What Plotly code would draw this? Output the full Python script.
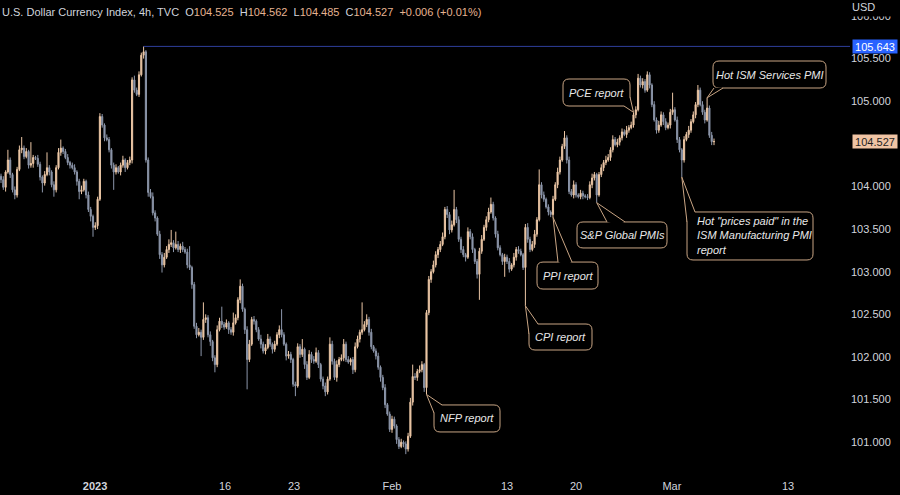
import plotly.graph_objects as go

# ---------------- data ----------------
first_open = 104.12
close = [
    104.08, 103.99, 104.17, 104.31, 104.14, 103.96, 103.90, 104.20, 104.43, 104.45,
    104.35, 104.41, 104.25, 104.27, 104.34, 104.33, 104.26, 104.11, 104.04, 104.14,
    104.22, 104.17, 104.02, 103.96, 104.22, 104.40, 104.45, 104.41, 104.34, 104.28,
    104.25, 104.22, 104.17, 104.06, 103.94, 103.96, 104.06, 103.90, 103.73, 103.65,
    103.52, 103.54, 103.85, 104.82, 104.72, 104.57, 104.55, 104.43, 104.25, 104.17,
    104.22, 104.17, 104.25, 104.31, 104.22, 104.28, 104.31, 105.25, 105.13, 105.08,
    105.31, 105.54, 105.58, 104.31, 103.93, 103.88, 103.69, 103.63, 103.44, 103.20,
    103.08, 103.17, 103.26, 103.32, 103.34, 103.28, 103.32, 103.26, 103.30, 103.26,
    103.23, 103.08, 103.05, 102.85, 102.36, 102.26, 102.29, 102.23, 102.44, 102.46,
    102.26, 102.18, 101.99, 101.91, 102.32, 102.42, 102.38, 102.35, 102.40, 102.32,
    102.29, 102.40, 102.46, 102.67, 102.83, 102.56, 102.32, 101.97, 102.15, 102.44,
    102.42, 102.32, 102.21, 102.15, 102.07, 102.11, 102.21, 102.15, 102.09, 102.15,
    102.26, 102.32, 102.26, 102.15, 102.01, 102.03, 101.97, 101.68, 101.66, 102.12,
    102.03, 102.09, 101.91, 101.76, 102.03, 101.97, 101.95, 102.05, 101.91, 101.74,
    101.66, 101.59, 101.74, 102.15, 101.95, 101.76, 101.91, 101.97, 101.99, 102.15,
    101.97, 101.94, 101.97, 101.85, 102.12, 102.21, 102.29, 102.32, 102.38, 102.44,
    102.29, 102.12, 102.07, 102.01, 101.88, 101.76, 101.64, 101.44, 101.33, 101.15,
    101.27, 101.19, 101.03, 100.95, 101.00, 100.98, 100.92, 101.07, 101.47, 101.77,
    101.76, 101.83, 101.85, 101.91, 101.64, 102.52, 102.91, 103.00, 103.08, 103.20,
    103.26, 103.32, 103.41, 103.73, 103.67, 103.49, 103.55, 103.73, 103.61, 103.38,
    103.26, 103.20, 103.17, 103.47, 103.41, 103.26, 103.12, 102.97, 103.24, 103.38,
    103.52, 103.61, 103.70, 103.79, 103.63, 103.44, 103.28, 103.20, 103.12, 103.17,
    103.12, 103.03, 103.08, 103.17, 103.26, 103.24, 103.20, 103.05, 103.52, 103.38,
    103.26, 103.32, 103.44, 103.61, 104.02, 103.90, 103.85, 103.76, 103.70, 103.67,
    103.85, 104.02, 104.17, 104.31, 104.47, 104.57, 104.31, 103.94, 103.90, 104.02,
    103.90, 103.88, 103.92, 103.89, 103.88, 103.87, 104.02, 104.10, 104.14, 103.90,
    104.14, 104.22, 104.28, 104.31, 104.34, 104.43, 104.55, 104.49, 104.52, 104.57,
    104.64, 104.61, 104.66, 104.69, 104.72, 104.84, 104.90, 105.27, 105.19, 105.23,
    105.13, 105.31, 105.19, 104.96, 104.78, 104.66, 104.72, 104.84, 104.76, 104.69,
    104.72, 104.87, 104.90, 104.78, 104.55, 104.43, 104.31, 104.55, 104.61, 104.66,
    104.76, 104.84, 104.96, 105.13, 104.96, 104.87, 104.78, 104.92, 104.60, 104.525, 104.527,
]
# wick lengths above / below the body, in hundredths of an index point
upper_wick = [
    3, 4, 2, 12, 3, 2, 4, 3, 5, 13,
    3, 4, 2, 25, 3, 2, 4, 3, 2, 4,
    18, 3, 2, 4, 3, 5, 10, 2, 3, 4,
    2, 3, 4, 2, 3, 5, 3, 2, 4, 3,
    2, 4, 3, 4, 3, 2, 4, 3, 2, 3,
    4, 2, 3, 5, 2, 3, 4, 3, 5, 3,
    4, 3, 6.3, 2, 3, 4, 5, 3, 2, 4,
    3, 5, 4, 6, 15, 3, 15, 4, 3, 5,
    3, 4, 22, 2, 3, 4, 5, 3, 20, 4,
    3, 4, 2, 3, 5, 4, 17, 3, 4, 2,
    3, 12, 4, 3, 8, 3, 2, 4, 5, 3,
    4, 2, 3, 5, 3, 4, 6, 3, 2, 4,
    3, 5, 24, 3, 2, 4, 3, 2, 3, 4,
    3, 12, 2, 4, 5, 3, 4, 6, 3, 2,
    3, 4, 3, 8, 4, 3, 5, 3, 4, 6,
    3, 4, 2, 3, 5, 4, 3, 32, 4, 6,
    3, 4, 2, 3, 4, 2, 3, 4, 2, 3,
    4, 3, 2, 3, 4, 2, 3, 4, 5, 14,
    4, 3, 5, 4, 2, 3, 4, 3, 5, 4,
    3, 4, 5, 3, 4, 3, 5, 23, 3, 4,
    3, 4, 2, 5, 3, 4, 2, 3, 4, 5,
    3, 4, 5, 8, 3, 2, 4, 3, 2, 4,
    3, 4, 2, 5, 3, 4, 3, 2, 4, 5,
    3, 4, 5, 3, 18, 3, 4, 2, 3, 2,
    4, 3, 5, 4, 3, 8, 3, 4, 3, 5,
    3, 2, 4, 3, 2, 3, 4, 5, 3, 2,
    3, 4, 3, 5, 4, 3, 5, 3, 4, 3,
    4, 3, 5, 3, 4, 3, 4, 5, 3, 4,
    3, 4, 3, 2, 4, 3, 5, 4, 3, 4,
    3, 4, 20, 3, 4, 3, 2, 4, 3, 5,
    3, 4, 3, 6, 3, 4, 3, 12, 3, 4, 3.5,
]
lower_wick = [
    4, 3, 5, 2, 4, 3, 5, 3, 2, 4,
    3, 2, 4, 3, 5, 2, 3, 4, 11, 3,
    2, 4, 3, 8, 3, 2, 4, 3, 2, 3,
    4, 2, 3, 5, 9, 3, 2, 4, 3, 6,
    11, 3, 4, 2, 3, 4, 2, 3, 4, 21,
    3, 2, 4, 3, 5, 2, 3, 4, 3, 2,
    3, 2, 4, 3, 5, 2, 3, 4, 2, 5,
    9, 3, 2, 4, 3, 5, 2, 3, 4, 3,
    2, 4, 3, 5, 3, 4, 2, 22, 3, 4,
    3, 5, 4, 9, 3, 2, 4, 3, 2, 5,
    3, 4, 2, 3, 4, 3, 5, 35, 3, 2,
    4, 3, 2, 5, 3, 4, 2, 3, 5, 3,
    2, 4, 3, 2, 5, 3, 4, 3, 12, 2,
    4, 3, 5, 3, 2, 4, 3, 2, 4, 3,
    4, 5, 3, 2, 4, 3, 5, 3, 2, 4,
    3, 2, 4, 5, 3, 2, 4, 3, 2, 3,
    4, 3, 2, 4, 3, 5, 3, 4, 2, 3,
    4, 3, 5, 3, 2, 4, 6, 3, 2, 4,
    3, 4, 2, 3, 5, 8, 3, 4, 2, 3,
    4, 3, 2, 3, 4, 5, 3, 2, 4, 3,
    4, 3, 5, 2, 3, 4, 3, 5, 30, 3,
    2, 4, 3, 2, 3, 4, 3, 2, 4, 18,
    3, 4, 2, 3, 4, 3, 2, 3, 45, 4,
    3, 2, 4, 3, 2, 4, 3, 2, 4, 3,
    3, 2, 4, 3, 2, 3, 4, 3, 2, 4,
    3, 2, 3, 4, 2, 3, 2, 4, 3, 9,
    2, 3, 4, 3, 2, 4, 3, 2, 3, 4,
    3, 2, 4, 3, 2, 3, 4, 2, 3, 4,
    3, 2, 4, 3, 2, 4, 3, 2, 4, 3,
    2, 4, 3, 2, 4, 3, 20, 3, 2, 4,
    3, 2, 4, 3, 2, 3, 4, 2, 3, 4, 4,
]
tick_index = [40.9, 97.4, 127.4, 170, 220, 250, 291.7, 342.2]
tick_text = ["<b>2023</b>", "16", "23", "Feb", "13", "20", "Mar", "13"]
price_ticks = [101.0, 101.5, 102.0, 102.5, 103.0, 103.5, 104.0, 105.0, 105.5, 106.0]
header_name = "U.S. Dollar Currency Index, 4h, TVC"
header_ohlc = [("O", "104.525"), ("H", "104.562"), ("L", "104.485"), ("C", "104.527")]
header_change = "+0.006 (+0.01%)"

# events: label, candle index, which end of the candle the callout points to
events = [
    ("NFP report", 185, "low"),
    ("CPI report", 228, "low"),
    ("PPI report", 240, "low"),
    ("S&P Global PMIs", 259, "low"),
    ("PCE report", 275, "high"),
    ("Hot \"prices paid\" in the<br>ISM Manufacturing PMI<br>report", 296, "low"),
    ("Hot ISM Services PMI", 307, "high"),
]

# ---------------- build ----------------
n = len(close)
idx = list(range(n))
open_ = [first_open] + close[:-1]
high = [max(o, c) + u / 100 for o, c, u in zip(open_, close, upper_wick)]
low = [min(o, c) - d / 100 for o, c, d in zip(open_, close, lower_wick)]

UP = "#ebc6a5"
DOWN = "#8c96aa"
TAN = "#c9a584"
TXT = "#d1d4dc"
FONT = "Liberation Sans, Arial, sans-serif"

X_RANGE = [-0.435, 369.13]
Y_RANGE = [100.58, 106.07]

fig = go.Figure()
fig.add_trace(go.Candlestick(
    x=idx, open=open_, high=high, low=low, close=close,
    increasing=dict(line=dict(color=UP, width=1), fillcolor=UP),
    decreasing=dict(line=dict(color=DOWN, width=1), fillcolor=DOWN),
    whiskerwidth=0, hoverinfo="skip", showlegend=False,
))

peak_i = max(idx, key=lambda i: high[i])
peak = high[peak_i]

shapes = [dict(type="line", xref="x", yref="y", x0=peak_i, x1=X_RANGE[1],
               y0=peak, y1=peak, line=dict(color="#2e3f9c", width=1), layer="above")]

# callout geometry (pixels relative to the pointed candle end, y downwards)
geometry = [
    ((7.5, 10.5, 73.5, 37.5), ((7.5, 18.5), (15.5, 10.5)), "center"),
    ((3.6, 18.2, 66.6, 44.2), ((3.6, 28.2), (12.6, 18.2)), "center"),
    ((-16, 44.9, 45, 71.9), ((5, 44.9), (19, 44.9)), "center"),
    ((-19.7, 19.3, 70.3, 45.3), ((10.3, 19.3), (28.3, 19.3)), "center"),
    ((-70.5, -33.3, -3.5, -6.3), ((-9.5, -6.3), (-3.5, -15.3)), "center"),
    ((5.2, 34.9, 131.2, 82.9), ((5.2, 44.9), (13.2, 34.9)), "left"),
    ((5.9, -36.8, 118.9, -9.8), ((6.9, -9.8), (15.9, -9.8)), "center"),
]


def rounded_rect(x0, y0, x1, y1, r=6):
    t, b = -y0, -y1
    return (f"M{x0+r},{t} L{x1-r},{t} Q{x1},{t} {x1},{t-r} L{x1},{b+r} Q{x1},{b} {x1-r},{b} "
            f"L{x0+r},{b} Q{x0},{b} {x0},{b+r} L{x0},{t-r} Q{x0},{t} {x0+r},{t} Z")


annotations = []
for (label, i, end), (box, tail, align) in zip(events, geometry):
    yv = low[i] if end == "low" else high[i]
    x0, y0, x1, y1 = box
    (bx1, by1), (bx2, by2) = tail
    cx, cy = (x0 + x1) / 2, (y0 + y1) / 2
    mx, my = (bx1 + bx2) / 2, (by1 + by2) / 2
    dx, dy = cx - mx, cy - my
    L = (dx * dx + dy * dy) ** 0.5 or 1
    ix, iy = mx + dx / L * 3, my + dy / L * 3
    common = dict(type="path", xref="x", yref="y", xsizemode="pixel", ysizemode="pixel",
                  xanchor=i, yanchor=yv, layer="above")
    shapes.append(dict(common, path=rounded_rect(x0, y0, x1, y1),
                       fillcolor="#000000", line=dict(color=TAN, width=1)))
    shapes.append(dict(common, path=f"M0,0 L{bx1},{-by1} L{ix},{-iy} L{bx2},{-by2} Z",
                       fillcolor="#000000", line=dict(width=0)))
    shapes.append(dict(common, path=f"M{bx1},{-by1} L0,0 L{bx2},{-by2}",
                       line=dict(color=TAN, width=1)))
    font = dict(family=FONT, size=11, color="#e8e8e8", style="italic")
    if align == "left":
        annotations.append(dict(x=i, y=yv, xref="x", yref="y", text=label, showarrow=False,
                                xanchor="left", yanchor="middle", align="left",
                                xshift=x0 + 8, yshift=-cy, font=font))
    else:
        annotations.append(dict(x=i, y=yv, xref="x", yref="y", text=label, showarrow=False,
                                xanchor="center", yanchor="middle",
                                xshift=cx, yshift=-cy, font=font))

# price labels on the right axis
annotations.append(dict(x=1, xref="paper", y=peak, yref="y", text=f"{peak:.3f}", showarrow=False,
                        xanchor="left", yanchor="middle", xshift=2, bgcolor="#2962ff",
                        width=44, height=13, borderpad=0,
                        font=dict(family=FONT, size=11, color="#ffffff")))
annotations.append(dict(x=1, xref="paper", y=close[-1], yref="y", text=f"{close[-1]:.3f}",
                        showarrow=False, xanchor="left", yanchor="middle", xshift=2,
                        bgcolor="#f0c4a4", width=44, height=13, borderpad=0,
                        font=dict(family=FONT, size=11, color="#1e1e1e")))
# currency header, drawn over (and partly hiding) the topmost price label
annotations.append(dict(x=1, xref="paper", y=1, yref="paper", text="USD", showarrow=False,
                        xanchor="left", yanchor="top", xshift=1, yshift=10, bgcolor="#000000",
                        width=49, height=15, align="left", valign="top", borderpad=0,
                        font=dict(family=FONT, size=11, color=TXT)))
# header
VAL = "#e6b391"
parts = [f"<span style='color:{TXT}'>{header_name}</span>&nbsp;&nbsp;"]
for k, v in header_ohlc:
    parts.append(f"<span style='color:{TXT}'>{k}</span><span style='color:{VAL}'>{v}</span>&nbsp;&nbsp;")
parts.append(f"<span style='color:{VAL}'>{header_change}</span>")
annotations.append(dict(x=0, y=1, xref="paper", yref="paper", text="".join(parts), showarrow=False,
                        xanchor="left", yanchor="middle", xshift=0, yshift=-2,
                        font=dict(family=FONT, size=11, color=TXT)))

fig.update_layout(
    width=900, height=495,
    margin=dict(l=0, r=50, t=10, b=17),
    paper_bgcolor="#000000", plot_bgcolor="#000000",
    showlegend=False, hovermode=False,
    shapes=shapes, annotations=annotations,
    xaxis=dict(range=X_RANGE, tickmode="array", tickvals=tick_index, ticktext=tick_text,
               showgrid=False, zeroline=False, showline=False, ticks="",
               tickfont=dict(family=FONT, size=11, color=TXT),
               rangeslider=dict(visible=False), fixedrange=True),
    yaxis=dict(range=Y_RANGE, side="right", tickmode="array", tickvals=price_ticks,
               tickformat=".3f", showgrid=False, zeroline=False, showline=False, ticks="",
               tickfont=dict(family=FONT, size=11, color=TXT), fixedrange=True),
)

fig.write_html("out.html", config={"displayModeBar": False},
               post_script="document.body.style.margin='0px';"
               "document.body.style.background='#000000';")
